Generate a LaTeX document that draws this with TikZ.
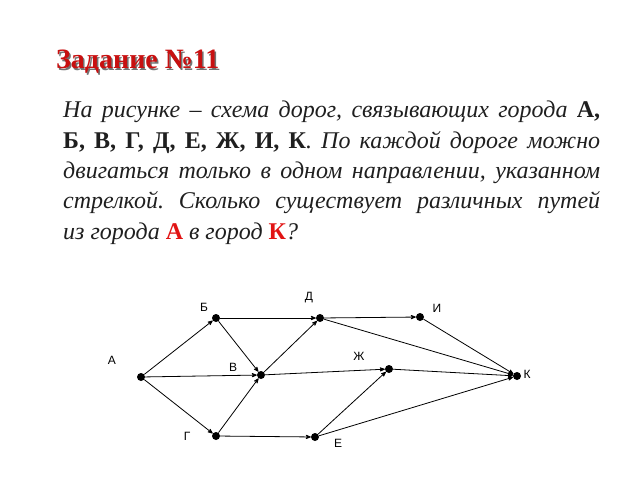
\documentclass[tikz,border=0pt]{standalone}
\usepackage{fontspec}
\setmainfont{Liberation Serif}
\newfontfamily\labelfont{Liberation Sans}
\usetikzlibrary{arrows}
\usetikzlibrary{positioning}
\definecolor{titlered}{RGB}{200,16,16}
\definecolor{keyred}{RGB}{225,20,20}
\newcommand{\jline}[1]{\makebox[537pt][s]{#1}}
\newcommand{\key}[1]{\textbf{\upshape #1}}
\tikzstyle{city} = [
	circle,
	fill = black,
	inner sep = 0pt,
	minimum size = 8pt
]
\tikzstyle{cityname} = [font=\labelfont\fontsize{12}{12}\selectfont]
\tikzstyle{road} = [-stealth', line width=0.8pt]

\begin{document}
\frenchspacing
\begin{tikzpicture}[x=1pt, y=-1pt]
	\useasboundingbox (0,0) rectangle (640,480);
	% title with shadow
	\node [anchor=base west, inner sep=0, text=black!55, font=\fontsize{28}{28}\selectfont\bfseries] (titleshadow) at (57.5,70) {Задание №11};
	\node [anchor=base west, inner sep=0, text=titlered, font=\fontsize{28}{28}\selectfont\bfseries] (title) at (56,68.5) {Задание №11};
	% task text
	\node [anchor=north west, inner sep=0, align=left, text=black!88, font=\fontsize{24}{30.3}\selectfont\itshape] (task) at (63,101) {%
		\jline{На рисунке – схема дорог, связывающих города \key{А,}}\\
		\jline{\key{Б, В, Г, Д, Е, Ж, И, К}. По каждой дороге можно}\\
		\jline{двигаться только в одном направлении, указанном}\\
		\jline{стрелкой. Сколько существует различных путей}\\
		из города \key{\textcolor{keyred}{А}} в город \key{\textcolor{keyred}{К}}?};
	
	% cities
	\node [city] (A) at (141,377) {};
	\node [city] (B) at (216,318) {};
	\node [city] (D) at (320,318) {};
	\node [city] (I) at (420,317) {};
	\node [city] (V) at (261,375) {};
	\node [city] (Zh) at (389,369) {};
	\node [city] (K) at (517,376) {};
	\node [city] (G) at (216,436) {};
	\node [city] (E) at (315,437) {};
	
	\node [cityname] (labelA) at (112,360) {А};
	\node [cityname] (labelB) at (204,307) {Б};
	\node [cityname] (labelD) at (309,298) {Д};
	\node [cityname] (labelI) at (437,308) {И};
	\node [cityname] (labelV) at (233,367) {В};
	\node [cityname] (labelZh) at (359,356) {Ж};
	\node [cityname] (labelK) at (527,374) {К};
	\node [cityname] (labelG) at (187,436) {Г};
	\node [cityname] (labelE) at (338,443) {Е};
	
	% roads
	\draw [road] (A) -- (B);
	\draw [road] (A) -- (V);
	\draw [road] (A) -- (G);
	\draw [road] (B) -- (D);
	\draw [road] (B) -- (V);
	\draw [road] (G) -- (V);
	\draw [road] (G) -- (E);
	\draw [road] (V) -- (D);
	\draw [road] (V) -- (Zh);
	\draw [road] (D) -- (I);
	\draw [road] (D) -- (K);
	\draw [road] (I) -- (K);
	\draw [road] (Zh) -- (K);
	\draw [road] (E) -- (Zh);
	\draw [road] (E) -- (K);
	
\end{tikzpicture}
\end{document}
